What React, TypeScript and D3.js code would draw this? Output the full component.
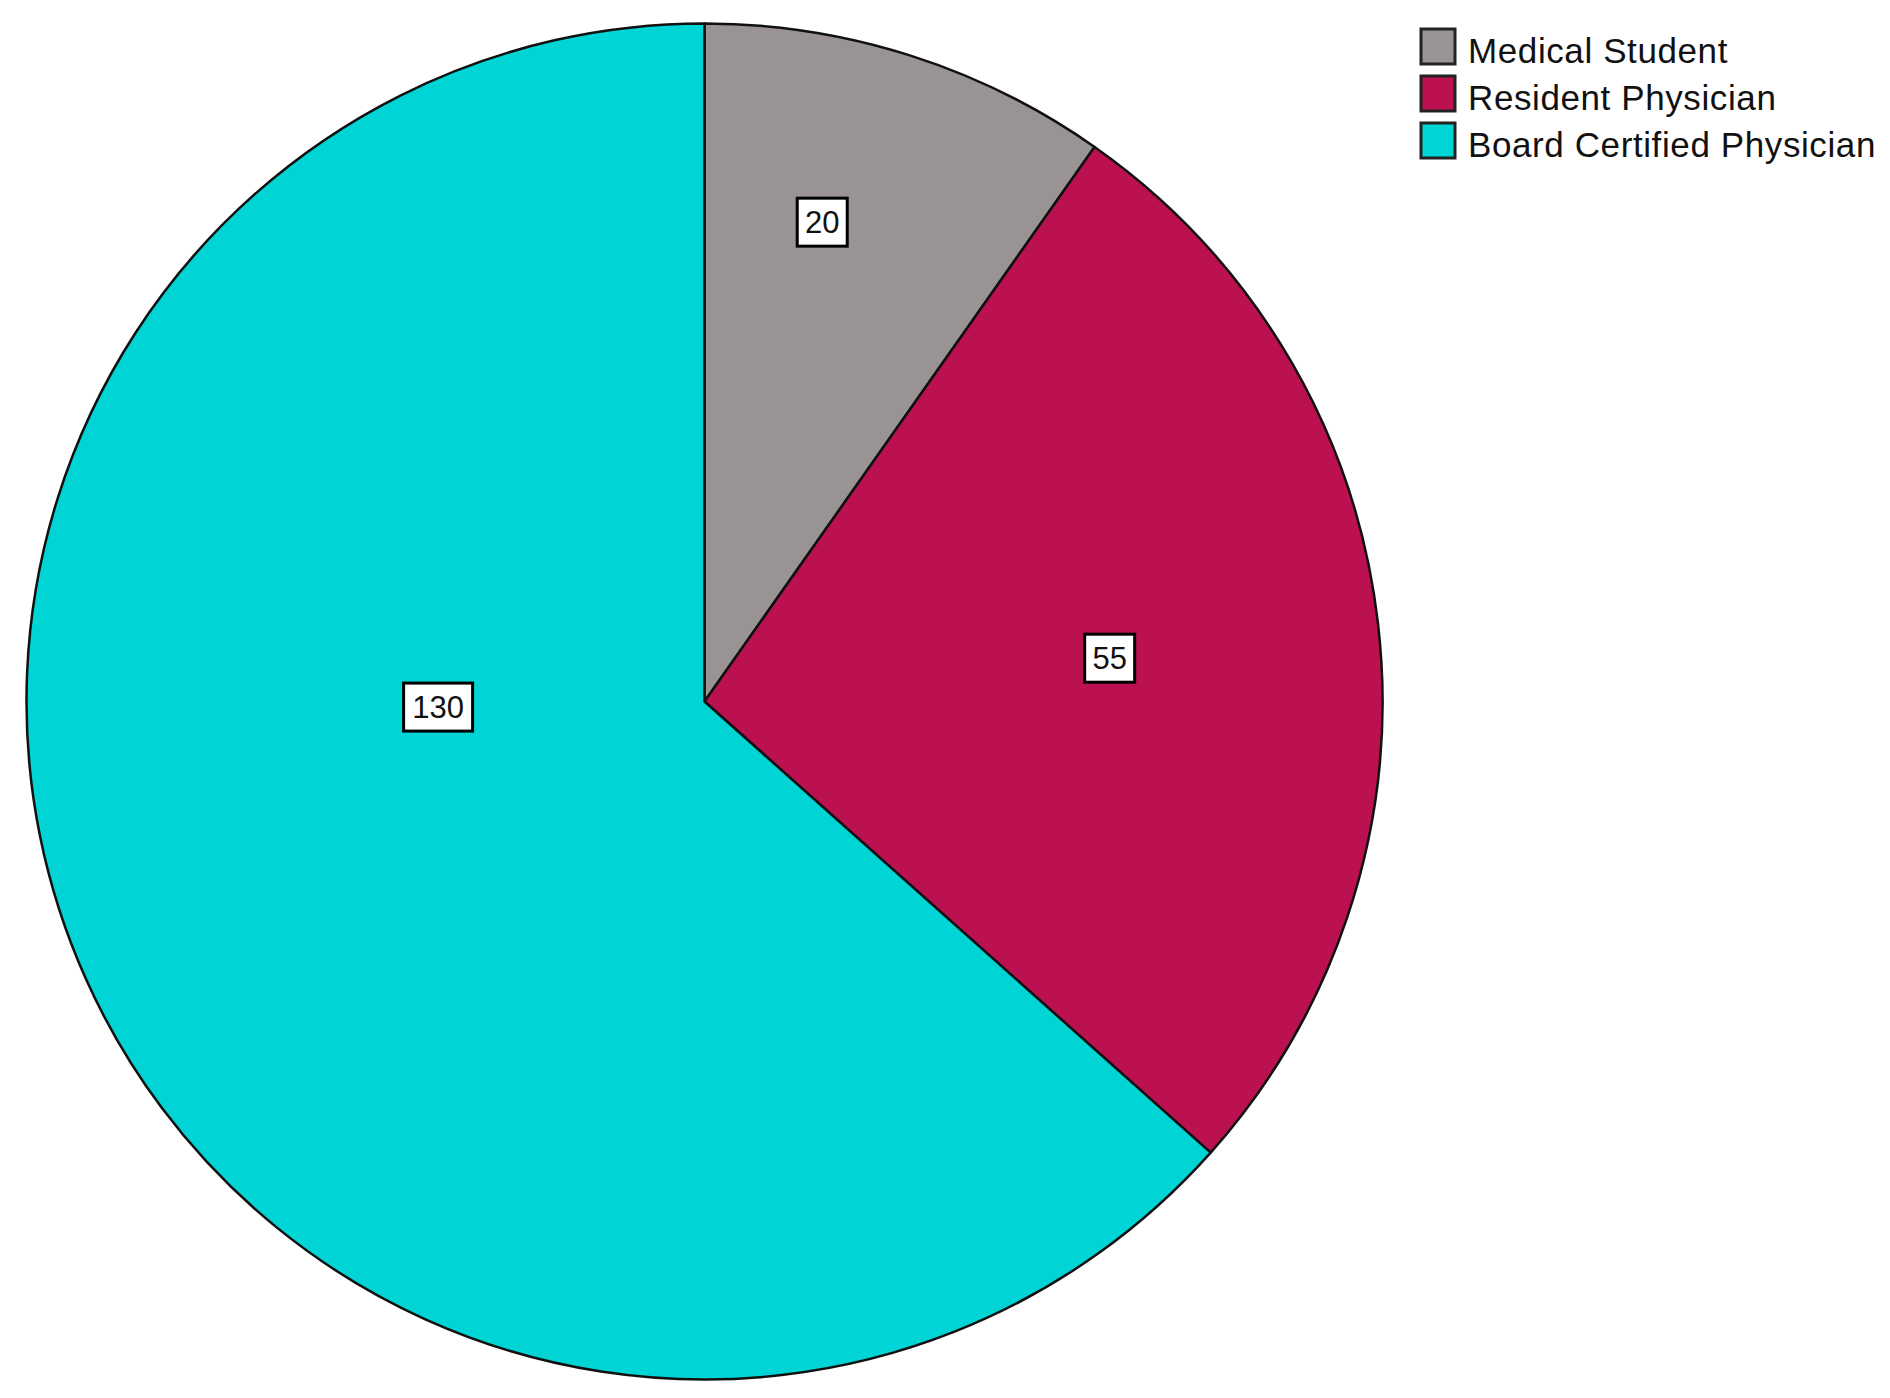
import { useRef, useEffect } from "react";
import * as d3 from "d3";

const categories = ["Medical Student", "Resident Physician", "Board Certified Physician"];
const counts = [20, 55, 130];
const colors = ["#999393", "#bb1150", "#00d4d4"];

// where SPSS dropped each count label: angle from top (deg) and fraction of radius
const labelAngle = [13.8, 83.9, 268.8];
const labelRadius = [0.728, 0.601, 0.393];

function App() {
  const svgRef = useRef(null);

  useEffect(() => {
    const width = 1890;
    const height = 1398;
    const cx = 704.5;
    const cy = 701.5;
    const r = 678;

    const svg = d3.select(svgRef.current);
    svg.selectAll("*").remove();
    svg.attr("width", width).attr("height", height);

    const pie = d3.pie().value((d) => d).sort(null);
    const arcs = pie(counts);
    const arc = d3.arc().innerRadius(0).outerRadius(r);

    const g = svg.append("g").attr("transform", `translate(${cx},${cy})`);

    g.selectAll("path")
      .data(arcs)
      .join("path")
      .attr("d", arc)
      .attr("fill", (_, i) => colors[i])
      .attr("stroke", "#111")
      .attr("stroke-width", 2.5)
      .attr("stroke-linejoin", "round");

    // count labels
    const labels = g
      .selectAll(".lab")
      .data(arcs)
      .join("g")
      .attr("class", "lab")
      .attr("transform", (_, i) => {
        const a = (labelAngle[i] * Math.PI) / 180;
        const rr = labelRadius[i] * r;
        return `translate(${Math.sin(a) * rr},${-Math.cos(a) * rr})`;
      });

    labels
      .append("rect")
      .attr("x", (d) => -(String(d.data).length * 9.5 + 6))
      .attr("y", -24)
      .attr("width", (d) => String(d.data).length * 19 + 12)
      .attr("height", 48)
      .attr("fill", "white")
      .attr("stroke", "#000")
      .attr("stroke-width", 3);

    labels
      .append("text")
      .attr("text-anchor", "middle")
      .attr("dy", "0.36em")
      .attr("font-family", "Liberation Sans, Arial, sans-serif")
      .attr("font-size", 31)
      .attr("fill", "#111")
      .text((d) => d.data);

    // legend
    const legend = svg
      .append("g")
      .selectAll("g")
      .data(categories)
      .join("g")
      .attr("transform", (_, i) => `translate(1421,${29 + i * 47})`);

    legend
      .append("rect")
      .attr("width", 34)
      .attr("height", 35)
      .attr("fill", (_, i) => colors[i])
      .attr("stroke", "#222")
      .attr("stroke-width", 3);

    legend
      .append("text")
      .attr("x", 47)
      .attr("y", 21)
      .attr("dy", "0.36em")
      .attr("font-family", "Liberation Sans, Arial, sans-serif")
      .attr("font-size", 35)
      .attr("letter-spacing", 0.6)
      .attr("fill", "#111")
      .text((d) => d);
  }, []);

  return (
    <div style={{ position: "absolute", left: 0, top: 0 }}>
      <svg ref={svgRef} style={{ display: "block" }} />
    </div>
  );
}

export default App;
